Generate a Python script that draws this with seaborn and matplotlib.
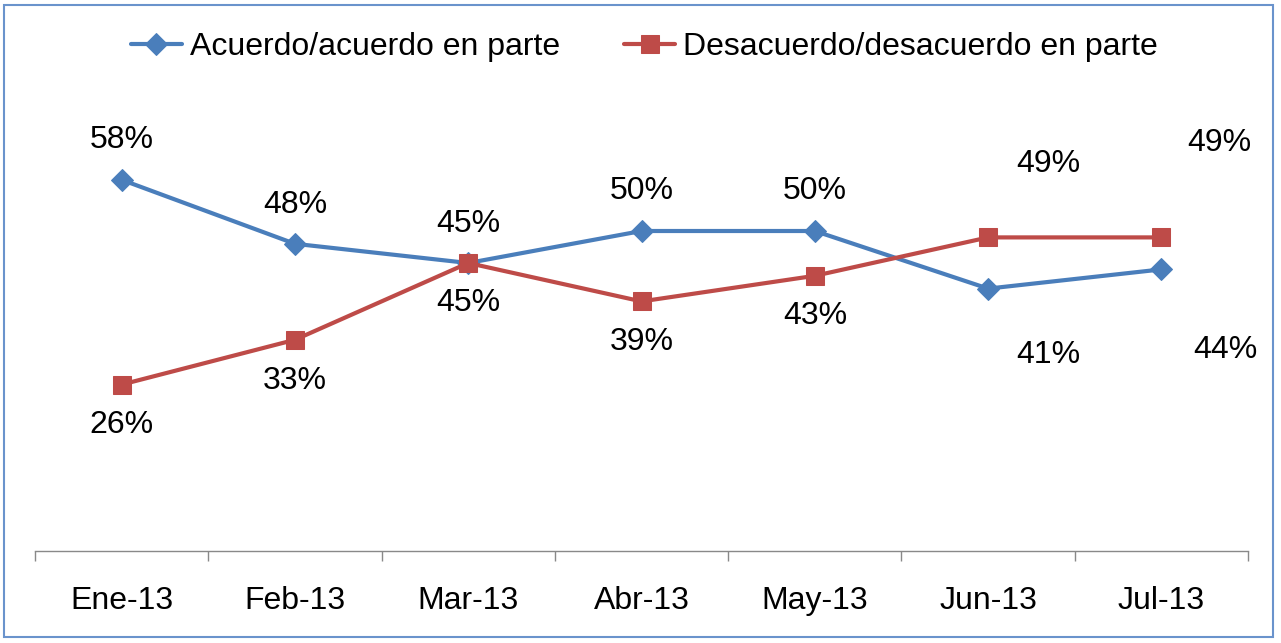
import matplotlib
matplotlib.use("Agg")
import matplotlib.pyplot as plt
import seaborn as sns
import pandas as pd
from matplotlib.patches import Rectangle

# datos
meses = ["Ene-13", "Feb-13", "Mar-13", "Abr-13", "May-13", "Jun-13", "Jul-13"]
acuerdo = [0.58, 0.48, 0.45, 0.50, 0.50, 0.41, 0.44]
desacuerdo = [0.26, 0.33, 0.45, 0.39, 0.43, 0.49, 0.49]

serie_a = "Acuerdo/acuerdo en parte"
serie_d = "Desacuerdo/desacuerdo en parte"

azul = "#4A7EBB"
rojo = "#BE4B48"

sns.set_theme(style="white")
plt.rcParams["font.family"] = ["Liberation Sans", "DejaVu Sans"]
plt.rcParams["text.color"] = "black"

df = pd.DataFrame({"mes": meses, "acuerdo": acuerdo, "desacuerdo": desacuerdo})
pos = list(range(len(meses)))
df["x"] = pos

fig = plt.figure(figsize=(12.81, 6.43), dpi=100)
ax = fig.add_axes([0.0273, 0.1431, 0.947, 0.6967])

sns.lineplot(data=df, x="x", y="acuerdo", ax=ax, color=azul, lw=3,
             marker="D", markersize=11, markeredgecolor=azul, sort=False,
             label=serie_a)
sns.lineplot(data=df, x="x", y="desacuerdo", ax=ax, color=rojo, lw=3,
             marker="s", markersize=13, markeredgecolor=rojo, sort=False,
             label=serie_d)

ax.set_xlim(-0.5, len(meses) - 0.5)
ax.set_ylim(0, 0.7)
ax.set_xlabel("")
ax.set_ylabel("")
ax.set_yticks([])

ax.set_xticks(pos)
ax.set_xticklabels(meses, fontsize=23, color="black")
ax.set_xticks([p - 0.5 for p in pos] + [len(meses) - 0.5], minor=True)
ax.tick_params(axis="x", which="major", length=0, pad=25)
ax.tick_params(axis="x", which="minor", length=7, width=1, color="#898989",
               bottom=True, direction="out")

for s in ["top", "left", "right"]:
    ax.spines[s].set_visible(False)
ax.spines["bottom"].set_color("#898989")
ax.spines["bottom"].set_linewidth(1)

# desplazamientos de etiquetas (pt)
off_a = [(0, 29), (0, 28), (0, 28), (0, 29), (0, 29), (43, -48), (46, -58)]
off_d = [(0, -29), (0, -30), (0, -29), (0, -29), (0, -29), (43, 53), (42, 68)]

for i in range(len(meses)):
    ax.annotate(f"{acuerdo[i]:.0%}", (pos[i], acuerdo[i]), xytext=off_a[i],
                textcoords="offset points", ha="center", va="center",
                fontsize=23, color="black", annotation_clip=False)
    ax.annotate(f"{desacuerdo[i]:.0%}", (pos[i], desacuerdo[i]), xytext=off_d[i],
                textcoords="offset points", ha="center", va="center",
                fontsize=23, color="black", annotation_clip=False)

handles, labels = ax.get_legend_handles_labels()
ax.get_legend().remove()
leg = fig.legend(handles, labels, loc="center", bbox_to_anchor=(0.503, 0.927),
                 ncol=2, frameon=False, fontsize=23, handlelength=1.6,
                 handletextpad=0.25, columnspacing=2.0)
for t in leg.get_texts():
    t.set_color("black")

fig.patches.append(Rectangle((0.0031, 0.0093), 0.9906, 0.983,
                             transform=fig.transFigure, fill=False,
                             edgecolor="#6A93CC", linewidth=1.5))

fig.savefig("out.png", dpi=100, facecolor="white")
